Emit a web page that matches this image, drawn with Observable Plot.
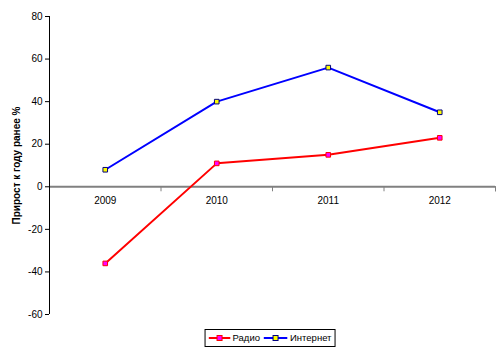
<!DOCTYPE html>
<html><head><meta charset="utf-8">
<script src="https://cdn.jsdelivr.net/npm/d3@7"></script>
<script src="https://cdn.jsdelivr.net/npm/@observablehq/plot@0.6"></script>
<style>
body{margin:0;background:#fff;}
#wrap{position:relative;width:500px;height:351px;font-family:"Liberation Sans",Arial,sans-serif;background:#fff;}
#wrap svg{display:block;}
#legend{position:absolute;left:270px;top:329px;transform:translateX(-50%);height:18px;border:1px solid #000;box-sizing:border-box;display:flex;align-items:center;font-size:9.5px;line-height:1;padding:0 3px 0 3px;color:#000;white-space:nowrap;}
#legend .item{display:flex;align-items:center;}
#legend .item + .item{margin-left:4px;}
#legend svg{margin-right:2px;}
</style></head><body><div id="wrap"></div>
<script>
const years = ["2009", "2010", "2011", "2012"];
const radio = [-36, 11, 15, 23];
const internet = [8, 40, 56, 35];
const yTicks = [-60, -40, -20, 0, 20, 40, 60, 80];
const seriesNames = ["Радио", "Интернет"];
const yTitle = "Прирост к году ранее %";

const seriesStyle = {
  "Радио": {stroke: "#FF0000", fill: "#FF00FF", mstroke: "#FF0000"},
  "Интернет": {stroke: "#0000FF", fill: "#FFFF00", mstroke: "#000080"}
};
const seriesValues = {"Радио": radio, "Интернет": internet};

const rows = seriesNames.flatMap(s => years.map((y, i) => ({i, year: y, series: s, v: seriesValues[s][i]})));
const boundaries = d3.range(0.5, years.length, 1);

const marks = [
  Plot.axisY({ticks: yTicks, tickSize: 4, tickPadding: 3, tickFormat: d => String(d), label: null}),
  Plot.text([yTitle], {frameAnchor: "left", textAnchor: "middle", rotate: -90, dx: -33, text: d => d, fontWeight: "bold", fill: "#000"}),
  Plot.ruleY([0], {stroke: "#808080", strokeWidth: 2}),
  Plot.ruleX(boundaries.concat([years.length - 0.5]), {x: d => d, y1: 0, y2: 0, insetBottom: -5, stroke: "#808080", strokeWidth: 1}),
  Plot.ruleX([-0.5], {stroke: "#000", strokeWidth: 1}),
  Plot.text(years, {x: (d, i) => i, y: 0, dy: 14, text: d => d, fill: "#000"})
];
for (const s of seriesNames) {
  const data = rows.filter(r => r.series === s);
  const st = seriesStyle[s];
  marks.push(Plot.line(data, {x: "i", y: "v", stroke: st.stroke, strokeWidth: 2}));
  marks.push(Plot.dot(data, {x: "i", y: "v", symbol: "square", r: 2.6, fill: st.fill, stroke: st.mstroke, strokeWidth: 1}));
}

const chart = Plot.plot({
  width: 500, height: 326,
  marginLeft: 49, marginRight: 5, marginTop: 16, marginBottom: 12,
  style: {fontFamily: "'Liberation Sans', Arial, sans-serif", fontSize: "10px", color: "#000", background: "#fff", overflow: "visible"},
  x: {domain: [-0.5, years.length - 0.5], axis: null},
  y: {domain: [-60, 80]},
  marks
});
const wrap = document.getElementById("wrap");
wrap.appendChild(chart);

const legend = document.createElement("div");
legend.id = "legend";
const swW = [22, 24];
seriesNames.forEach((s, k) => {
  const st = seriesStyle[s];
  const w = swW[k];
  const item = document.createElement("span");
  item.className = "item";
  item.innerHTML = `<svg width="${w}" height="8"><line x1="0" y1="4" x2="${w}" y2="4" stroke="${st.stroke}" stroke-width="2"/><rect x="${w/2 - 2.5}" y="1.5" width="5" height="5" fill="${st.fill}" stroke="${st.mstroke}" stroke-width="1"/></svg><span>${s}</span>`;
  legend.appendChild(item);
});
wrap.appendChild(legend);
</script></body></html>
